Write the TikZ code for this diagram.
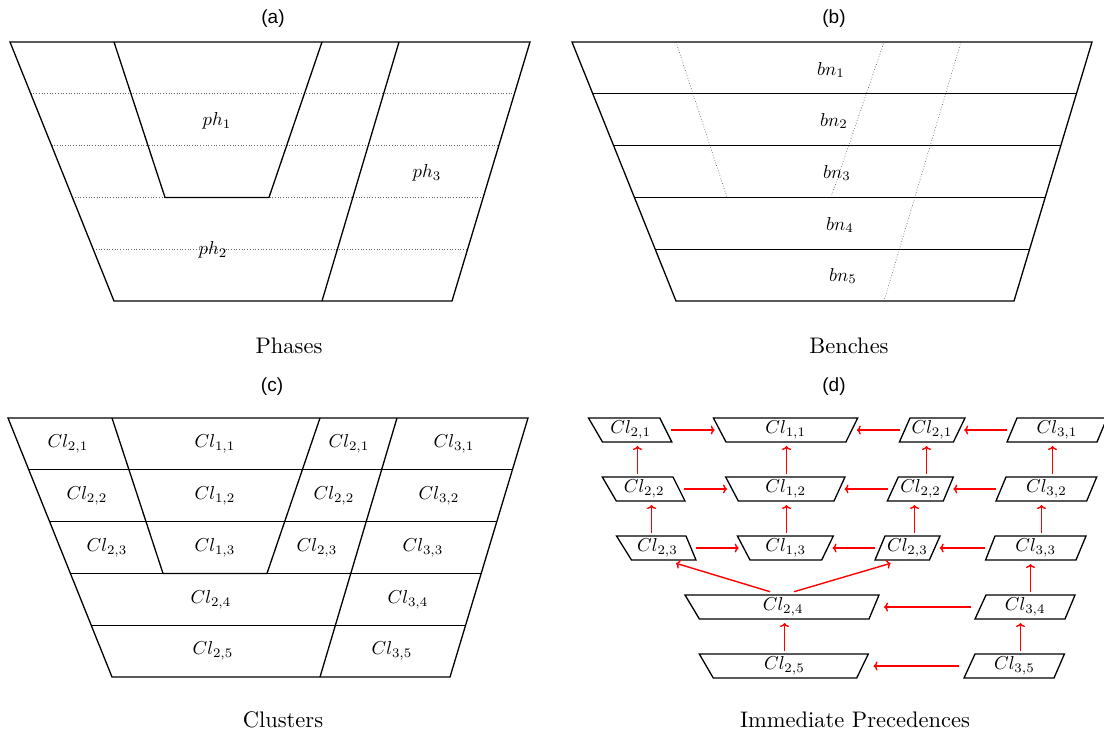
\RequirePackage{fix-cm}
\documentclass[tikz,border=0pt]{standalone}
\usepackage{fontspec}
\newfontfamily\ttlfamily{Liberation Sans}
\usetikzlibrary{calc,arrows.meta}
\newcommand\tenpt{\fontsize{10}{12}\selectfont}
\newcommand\ttlfont{\ttlfamily\fontsize{19}{21}\selectfont}
\tikzset{
  edge/.style={line width=1.3pt, line join=miter},
  dots/.style={dotted, line width=0.7pt, black!60},
  lab/.style={font=\tenpt, inner sep=0pt, scale=1.87, transform shape},
  captxt/.style={font=\tenpt, inner sep=0pt, scale=2.25, transform shape},
  ttl/.style={font=\ttlfont, inner sep=0pt},
  arr/.style={red, line width=1.4pt, -{To[length=4pt,width=9pt]}},
  cellnode/.style={minimum height=24pt, inner sep=0pt, outer sep=0pt}
}
\newcommand\mkcell[7]{%
  \pgfmathsetmacro\mcw{#3-#2}%
  \pgfmathsetmacro\mcx{(#2+#3)/2}%
  \node[cellnode, minimum width=\mcw pt] (#1) at (\mcx,#4) {};
  \node[lab] (#1l) at (#1) {$#7$};
  \draw[edge] ([xshift=#5 pt]#1.north west) -- ([xshift=#6 pt]#1.north east)
     -- ([xshift={-1*(#6)}]#1.south east) -- ([xshift={-1*(#5)}]#1.south west) -- cycle;
}
\newcommand\varr[2]{%
  \path let \p1=($(#1)!0.5!(#2)$) in ({round(\x1)+0.5},0) coordinate (m);
  \draw[arr, shorten <=3pt, shorten >=4pt] (m |- #1.north) -- (m |- #2.south);
}
\begin{document}
\begin{tikzpicture}[x=1pt,y=-1pt]
\fill[white] (0,0) rectangle (1104,734);
\useasboundingbox (0,0) rectangle (1104,734);

% ---------- (a) Phases ----------
\node[ttl] (ta) at (273,19) {(a)};
\coordinate (aTL) at (10,42);
\coordinate (aTR) at (530,42);
\coordinate (aBR) at (452,301);
\coordinate (aBL) at (114,301);
\foreach \k in {1,...,4}
  \draw[dots] ($(aTL)!\k/5!(aBL)$) -- ($(aTR)!\k/5!(aBR)$);
\draw[edge] (aTL) -- (aTR) -- (aBR) -- (aBL) -- cycle;
\draw[edge] (114,42) -- (165,197.4) -- (269,197.4) -- (322,42);
\draw[edge] (399,42) -- (322,301);
\node[lab] (ph1) at (217,121) {$ph_1$};
\node[lab] (ph2) at (213,250) {$ph_2$};
\node[lab] (ph3) at (427,173) {$ph_3$};
\node[captxt] (capa) at (289,346) {Phases};

% ---------- (b) Benches ----------
\node[ttl] (tb) at (834,19) {(b)};
\coordinate (bTL) at (572,42);
\coordinate (bTR) at (1092,42);
\coordinate (bBR) at (1014,301);
\coordinate (bBL) at (676,301);
\draw[dots] (676,42) -- (727,197.4) -- (831,197.4) -- (884,42);
\draw[dots] (961,42) -- (884,301);
\foreach \k in {1,...,4}
  \draw[edge] ($(bTL)!\k/5!(bBL)$) -- ($(bTR)!\k/5!(bBR)$);
\draw[edge] (bTL) -- (bTR) -- (bBR) -- (bBL) -- cycle;
\node[lab] (bn1) at (831,70) {$bn_1$};
\node[lab] (bn2) at (834,121) {$bn_2$};
\node[lab] (bn3) at (837,173) {$bn_3$};
\node[lab] (bn4) at (840,225) {$bn_4$};
\node[lab] (bn5) at (843,276) {$bn_5$};
\node[captxt] (capb) at (849,346) {Benches};

% ---------- (c) Clusters ----------
\node[ttl] (tc) at (272,387) {(c)};
\coordinate (cTL) at (8,418);
\coordinate (cTR) at (528,418);
\coordinate (cBR) at (450,677);
\coordinate (cBL) at (112,677);
\foreach \k in {1,...,4}
  \draw[edge] ($(cTL)!\k/5!(cBL)$) -- ($(cTR)!\k/5!(cBR)$);
\draw[edge] (cTL) -- (cTR) -- (cBR) -- (cBL) -- cycle;
\draw[edge] (112,418) -- (163,573.4) -- (267,573.4) -- (320,418);
\draw[edge] (397,418) -- (320,677);
\node[lab] (c21a) at (68,444)  {$Cl_{2,1}$};
\node[lab] (c11)  at (215,444) {$Cl_{1,1}$};
\node[lab] (c21b) at (349,444) {$Cl_{2,1}$};
\node[lab] (c31)  at (454,444) {$Cl_{3,1}$};
\node[lab] (c22a) at (87,496)  {$Cl_{2,2}$};
\node[lab] (c12)  at (215,496) {$Cl_{1,2}$};
\node[lab] (c22b) at (334,496) {$Cl_{2,2}$};
\node[lab] (c32)  at (439,496) {$Cl_{3,2}$};
\node[lab] (c23a) at (107,548) {$Cl_{2,3}$};
\node[lab] (c13)  at (215,548) {$Cl_{1,3}$};
\node[lab] (c23b) at (317,548) {$Cl_{2,3}$};
\node[lab] (c33)  at (423,548) {$Cl_{3,3}$};
\node[lab] (c24)  at (211,600) {$Cl_{2,4}$};
\node[lab] (c34)  at (408,600) {$Cl_{3,4}$};
\node[lab] (c25)  at (213,651) {$Cl_{2,5}$};
\node[lab] (c35)  at (392,651) {$Cl_{3,5}$};
\node[captxt] (capc) at (283,720) {Clusters};

% ---------- (d) Immediate precedences ----------
\node[ttl] (td) at (834,387) {(d)};
\mkcell{A1}{595.5}{665.8}{430}{-7}{-6}{Cl_{2,1}}
\mkcell{B1}{719.7}{851.8}{430}{-6.3}{5.9}{Cl_{1,1}}
\mkcell{C1}{904.7}{959.2}{430}{5.3}{5.8}{Cl_{2,1}}
\mkcell{D1}{1012}{1102}{430}{5}{5}{Cl_{3,1}}
\mkcell{A2}{609.3}{679}{489}{-7}{-6}{Cl_{2,2}}
\mkcell{B2}{732}{839.5}{489}{-6.3}{5.5}{Cl_{1,2}}
\mkcell{C2}{892.8}{948.3}{489}{5.5}{5}{Cl_{2,2}}
\mkcell{D2}{1001}{1091.7}{489}{5}{5}{Cl_{3,2}}
\mkcell{A3}{624}{691}{548}{-7.5}{-5}{Cl_{2,3}}
\mkcell{B3}{743.7}{827.5}{548}{-6.3}{5.8}{Cl_{1,3}}
\mkcell{C3}{880}{934.7}{548}{5}{5.3}{Cl_{2,3}}
\mkcell{D3}{990.3}{1081}{548}{4.7}{5}{Cl_{3,3}}
\mkcell{B4}{692.2}{874}{607}{-7.2}{5}{Cl_{2,4}}
\mkcell{D4}{980.5}{1070}{607}{5.5}{5}{Cl_{3,4}}
\mkcell{B5}{706.3}{862.5}{666}{-7}{5.8}{Cl_{2,5}}
\mkcell{D5}{969.5}{1059.2}{666}{5.5}{5.2}{Cl_{3,5}}

\begin{scope}[shorten <=5pt, shorten >=5pt]
\draw[arr] (A1.east) -- (B1.west);
\draw[arr] (C1.west) -- (B1.east);
\draw[arr] (D1.west) -- (C1.east);
\draw[arr] (A2.east) -- (B2.west);
\draw[arr] (C2.west) -- (B2.east);
\draw[arr] (D2.west) -- (C2.east);
\draw[arr] (A3.east) -- (B3.west);
\draw[arr] (C3.west) -- (B3.east);
\draw[arr] (D3.west) -- (C3.east);
\end{scope}
\draw[arr, shorten <=10pt, shorten >=10pt] (D4.west) -- (B4.east);
\draw[arr, shorten <=11pt, shorten >=11pt] (D5.west) -- (B5.east);

\varr{A2}{A1}
\varr{A3}{A2}
\varr{B2}{B1}
\varr{B3}{B2}
\varr{C2}{C1}
\varr{C3}{C2}
\varr{D2}{D1}
\varr{D3}{D2}
\varr{D4}{D3}
\varr{D5}{D4}
\varr{B5}{B4}

\draw[arr] ($(B4.north)+(-13,-3.3)$) -- ($(A3.south)+(18.5,3.3)$);
\draw[arr] ($(B4.north)+(11,-3.3)$) -- ($(C3.south)+(-16.7,3.3)$);

\node[captxt] (capd) at (855,720) {Immediate Precedences};
\end{tikzpicture}
\end{document}
